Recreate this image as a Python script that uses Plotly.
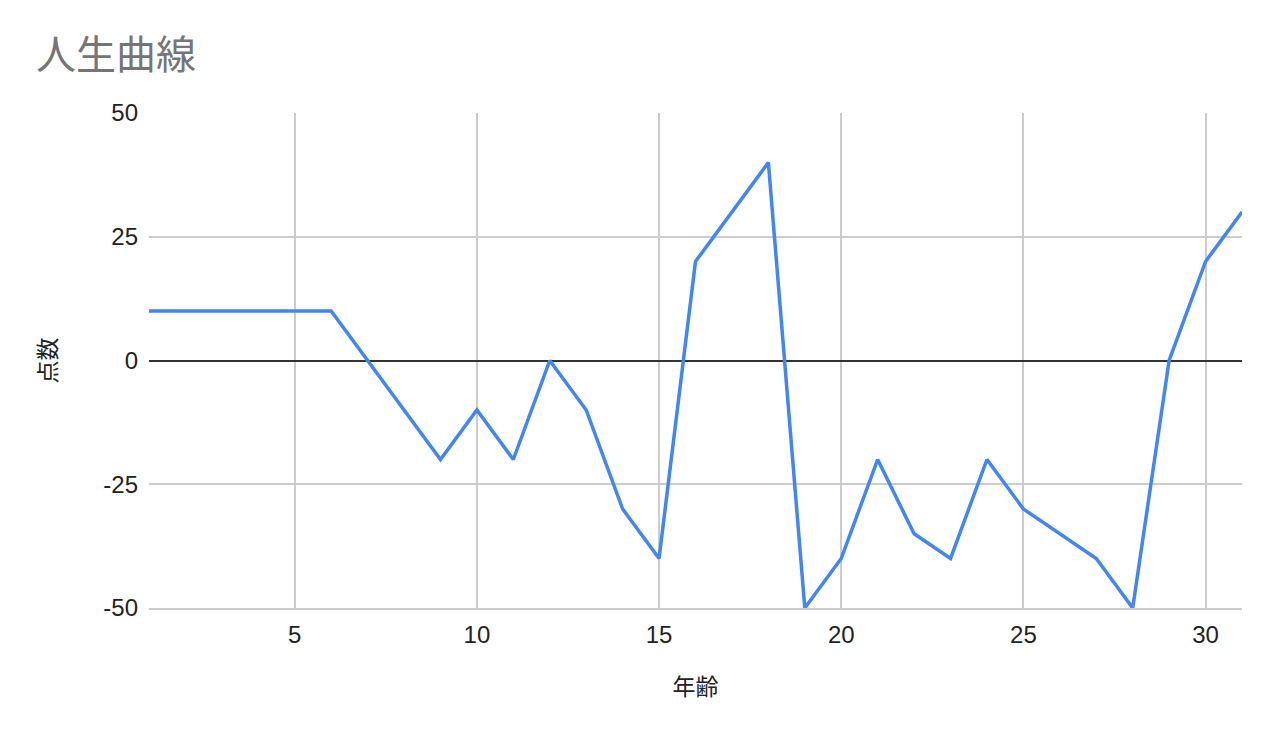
import plotly.graph_objects as go

# 年齢 (age) and 点数 (score)
ages = list(range(1, 32))
scores = [10, 10, 10, 10, 10, 10, 0, -10, -20, -10,
          -20, 0, -10, -30, -40, 20, 30, 40, -50, -40,
          -20, -35, -40, -20, -30, -35, -40, -50, 0, 20, 30]

x_ticks = [5, 10, 15, 20, 25, 30]
y_ticks = [-50, -25, 0, 25, 50]
y_labels = ["-50", "-25", "0", "25", "50"]

cjk = "Noto Sans CJK JP, sans-serif"

fig = go.Figure()
fig.add_trace(go.Scatter(
    x=ages, y=scores, mode="lines",
    line=dict(color="#4285f4", width=3.5),
    cliponaxis=False,
))

fig.update_layout(
    width=1281, height=742,
    paper_bgcolor="white", plot_bgcolor="white",
    margin=dict(l=141, r=47, t=105, b=142),
    showlegend=False,
    font=dict(family="Liberation Sans, Arial, sans-serif", size=24, color="#222222"),
    title=dict(
        text="人生曲線",
        font=dict(family=cjk, size=40, color="#757575"),
        x=28 / 1281, xanchor="left", y=1 - 47 / 742, yanchor="middle",
    ),
)

fig.update_xaxes(
    range=[1, 31], tickvals=x_ticks,
    showgrid=True, gridcolor="#cccccc", gridwidth=1.5,
    zeroline=False, showline=True, linecolor="#cccccc", linewidth=1.5, mirror=False,
    ticks="", ticklabelstandoff=4,
    title=dict(text="年齢", font=dict(family=cjk, size=23, color="#222222"),
               standoff=32),
)
fig.update_yaxes(
    range=[-50, 50], tickvals=y_ticks, ticktext=y_labels,
    showgrid=True, gridcolor="#cccccc", gridwidth=1.5,
    zeroline=True, zerolinecolor="#333333", zerolinewidth=1.5,
    showline=False, ticks="", ticklabelstandoff=10,
    title=dict(text="点数", font=dict(family=cjk, size=23, color="#222222"),
               standoff=40),
)

fig.write_html("out.html")
